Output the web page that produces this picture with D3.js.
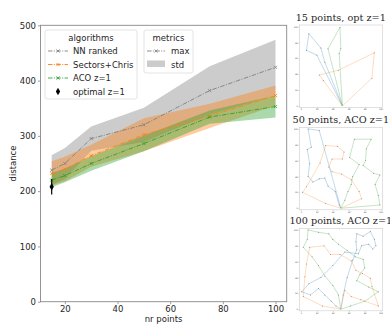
<!DOCTYPE html>
<html>
<head>
<meta charset="utf-8">
<script src="https://cdn.jsdelivr.net/npm/d3@7"></script>
<style>
  body { margin: 0; background: #fff; }
  svg { display: block; }
  text { font-family: "DejaVu Sans", sans-serif; fill: #262626; }
</style>
</head>
<body>
<div id="chart"></div>
<script>
// x values (nr points)
const nrPoints = [15, 20, 30, 50, 75, 100];

// mean and std per algorithm
const nnMean = [238, 250, 295, 320, 382, 424];
const nnStd = [27, 28, 22, 31, 44, 50];
const secMean = [232, 240, 264, 302, 336, 373];
const secStd = [22, 22, 20, 30, 22, 18];
const acoMean = [220, 228, 250, 286, 334, 353];
const acoStd = [13, 12, 13, 14, 12, 20];

// optimal solution, only for 15 points
const optX = [15];
const optMean = [208];
const optStd = [14];

const yTicks = [0, 100, 200, 300, 400, 500];
const xTicks = [20, 40, 60, 80, 100];

// example tours for the small panels, coordinates 0..100, depot at (50, 0)
const tours15 = [
  {color: '#1f77b4', pts: [[52,0],[30,55],[25,73],[10,91],[7,70],[20,64],[52,0]]},
  {color: '#2ca02c', pts: [[52,0],[34,72],[49,99],[50,72],[48,66],[52,0]]},
  {color: '#ff7f0e', pts: [[52,0],[28,32],[23,39],[47,45],[92,67],[89,35],[52,0]]}
];
const tours50 = [
  {color: '#1f77b4', pts: [[50,0],[48,4],[43,21],[34,28],[30,38],[23,37],[15,33],[9,40],[11,56],[8,74],[13,77],[9,100],[23,98],[50,0]]},
  {color: '#ff7f0e', pts: [[50,0],[31,6],[2,20],[7,27],[24,57],[31,79],[46,78],[54,71],[52,62],[39,62],[35,52],[39,46],[51,43],[63,36],[73,21],[76,12],[50,0]]},
  {color: '#2ca02c', pts: [[50,0],[55,10],[59,21],[63,30],[65,40],[73,55],[61,64],[67,87],[88,87],[82,75],[81,60],[78,54],[91,44],[99,42],[93,30],[97,16],[99,4],[50,0]]}
];
const tours100 = [
  {color: '#2ca02c', pts: [[50,0],[47,18],[40,30],[30,42],[22,55],[14,66],[3,78],[8,88],[9,100],[22,97],[35,95],[40,88],[47,82],[58,74],[68,66],[78,63],[80,52],[74,44],[70,36],[85,28],[97,22],[80,10],[62,4],[50,0]]},
  {color: '#1f77b4', pts: [[50,0],[53,18],[58,40],[65,62],[70,75],[69,85],[70,95],[78,92],[87,98],[92,88],[94,80],[90,76],[85,82],[76,80],[72,70],[55,72],[40,55],[25,40],[10,32],[1,22],[12,18],[22,26],[30,18],[38,10],[44,4],[50,0]]},
  {color: '#ff7f0e', pts: [[50,0],[27,4],[3,16],[5,41],[7,57],[11,78],[29,80],[37,69],[49,69],[63,61],[69,49],[77,45],[87,39],[89,29],[97,4],[75,12],[63,16],[55,24],[50,0]]}
];

const width = 390, height = 325;
const svg = d3.select('#chart').append('svg')
  .attr('width', width)
  .attr('height', height);

// main axes
const plot = {left: 40.5, right: 286.7, top: 25.3, bottom: 301.7};
const x = d3.scaleLinear().domain([10.75, 104.25]).range([plot.left, plot.right]);
const y = d3.scaleLinear().domain([0, 500]).range([plot.bottom, plot.top]);

const series = [
  {name: 'NN ranked', mean: nnMean, std: nnStd, color: '#7f7f7f'},
  {name: 'Sectors+Chris', mean: secMean, std: secStd, color: '#ff7f0e'},
  {name: 'ACO z=1', mean: acoMean, std: acoStd, color: '#2ca02c'}
];

const area = d3.area()
  .x(d => x(d.x))
  .y0(d => y(d.m - d.s))
  .y1(d => y(d.m + d.s));
const line = d3.line()
  .x(d => x(d.x))
  .y(d => y(d.m));

const dash = '4.5,1.4,1,1.4';

series.forEach(s => {
  const rows = nrPoints.map((v, i) => ({x: v, m: s.mean[i], s: s.std[i]}));
  svg.append('path')
    .attr('d', area(rows))
    .attr('fill', s.color)
    .attr('fill-opacity', 0.4);
});

function xMarker(g, cx, cy, color) {
  const r = 1.6;
  g.append('path')
    .attr('d', `M${cx - r},${cy - r}L${cx + r},${cy + r}M${cx - r},${cy + r}L${cx + r},${cy - r}`)
    .attr('stroke', color)
    .attr('stroke-width', 0.8);
}

series.forEach(s => {
  const rows = nrPoints.map((v, i) => ({x: v, m: s.mean[i], s: s.std[i]}));
  svg.append('path')
    .attr('d', line(rows))
    .attr('fill', 'none')
    .attr('stroke', s.color)
    .attr('stroke-width', 0.9)
    .attr('stroke-dasharray', dash);
  rows.forEach(r => xMarker(svg, x(r.x), y(r.m), s.color));
});

// optimal with error bar
optX.forEach((v, i) => {
  svg.append('line')
    .attr('x1', x(v)).attr('x2', x(v))
    .attr('y1', y(optMean[i] - optStd[i]))
    .attr('y2', y(optMean[i] + optStd[i]))
    .attr('stroke', '#000')
    .attr('stroke-width', 1.2);
  svg.append('path')
    .attr('d', d3.symbol(d3.symbolDiamond, 16)())
    .attr('transform', `translate(${x(v)},${y(optMean[i])})`)
    .attr('fill', '#000');
});

// axes
const yAxis = svg.append('g')
  .attr('transform', `translate(${plot.left},0)`)
  .call(d3.axisLeft(y).tickValues(yTicks).tickSize(2.5).tickPadding(2));
const xAxis = svg.append('g')
  .attr('transform', `translate(0,${plot.bottom})`)
  .call(d3.axisBottom(x).tickValues(xTicks).tickSize(2.5).tickPadding(2));
[xAxis, yAxis].forEach(a => {
  a.select('.domain').remove();
  a.selectAll('line').attr('stroke', '#888').attr('stroke-width', 0.8);
  a.selectAll('text').style('font-size', '8.5px').attr('fill', '#262626');
});

svg.append('rect')
  .attr('x', plot.left).attr('y', plot.top)
  .attr('width', plot.right - plot.left)
  .attr('height', plot.bottom - plot.top)
  .attr('fill', 'none')
  .attr('stroke', '#888')
  .attr('stroke-width', 0.9);

svg.append('text')
  .attr('x', (plot.left + plot.right) / 2)
  .attr('y', 322)
  .attr('text-anchor', 'middle')
  .style('font-size', '8.5px')
  .text('nr points');

svg.append('text')
  .attr('transform', `translate(15.5,${(plot.top + plot.bottom) / 2}) rotate(-90)`)
  .attr('text-anchor', 'middle')
  .style('font-size', '8.5px')
  .text('distance');

// legend: algorithms
const leg1 = svg.append('g');
leg1.append('rect')
  .attr('x', 45).attr('y', 30).attr('width', 92).attr('height', 69)
  .attr('rx', 2)
  .attr('fill', '#fff').attr('fill-opacity', 0.8)
  .attr('stroke', '#ddd').attr('stroke-width', 0.8);
leg1.append('text')
  .attr('x', 91).attr('y', 40.5)
  .attr('text-anchor', 'middle')
  .style('font-size', '8.5px')
  .text('algorithms');
series.forEach((s, i) => {
  const ly = 51 + i * 13.5;
  leg1.append('line')
    .attr('x1', 48).attr('x2', 68)
    .attr('y1', ly).attr('y2', ly)
    .attr('stroke', s.color)
    .attr('stroke-width', 0.9)
    .attr('stroke-dasharray', dash);
  xMarker(leg1, 58, ly, s.color);
  leg1.append('text')
    .attr('x', 73).attr('y', ly + 3)
    .style('font-size', '8.5px')
    .text(s.name);
});
leg1.append('path')
  .attr('d', d3.symbol(d3.symbolDiamond, 16)())
  .attr('transform', 'translate(58,91.5)')
  .attr('fill', '#000');
leg1.append('text')
  .attr('x', 73).attr('y', 94.5)
  .style('font-size', '8.5px')
  .text('optimal z=1');

// legend: metrics
const leg2 = svg.append('g');
leg2.append('rect')
  .attr('x', 144).attr('y', 30).attr('width', 49).attr('height', 43)
  .attr('rx', 2)
  .attr('fill', '#fff').attr('fill-opacity', 0.8)
  .attr('stroke', '#ddd').attr('stroke-width', 0.8);
leg2.append('text')
  .attr('x', 168.5).attr('y', 40.5)
  .attr('text-anchor', 'middle')
  .style('font-size', '8.5px')
  .text('metrics');
leg2.append('line')
  .attr('x1', 147).attr('x2', 165)
  .attr('y1', 51).attr('y2', 51)
  .attr('stroke', '#7f7f7f')
  .attr('stroke-width', 0.9)
  .attr('stroke-dasharray', dash);
xMarker(leg2, 156, 51, '#7f7f7f');
leg2.append('text')
  .attr('x', 171).attr('y', 54)
  .style('font-size', '8.5px')
  .text('max');
leg2.append('rect')
  .attr('x', 147).attr('y', 60.5).attr('width', 18).attr('height', 6.5)
  .attr('fill', '#7f7f7f').attr('fill-opacity', 0.4);
leg2.append('text')
  .attr('x', 171).attr('y', 67.5)
  .style('font-size', '8.5px')
  .text('std');

// small tour panels
const panels = [
  {title: '15 points, opt z=1', tours: tours15, top: 25, titleY: 20.5},
  {title: '50 points, ACO z=1', tours: tours50, top: 127.3, titleY: 123},
  {title: '100 points, ACO z=1', tours: tours100, top: 228.3, titleY: 224}
];
const pLeft = 299.3, pRight = 382.3, pSize = 82.5;
const tickVals = [0, 20, 40, 60, 80, 100];

panels.forEach(p => {
  const px = d3.scaleLinear().domain([-2, 102]).range([pLeft, pRight]);
  const py = d3.scaleLinear().domain([-2, 102]).range([p.top + pSize, p.top]);
  const g = svg.append('g');

  g.append('rect')
    .attr('x', pLeft).attr('y', p.top)
    .attr('width', pRight - pLeft).attr('height', pSize)
    .attr('fill', '#fff')
    .attr('stroke', '#ccc').attr('stroke-width', 0.6);

  const ax = g.append('g')
    .attr('transform', `translate(0,${p.top + pSize})`)
    .call(d3.axisBottom(px).tickValues(tickVals).tickSize(1).tickPadding(0.5));
  const ay = g.append('g')
    .attr('transform', `translate(${pLeft},0)`)
    .call(d3.axisLeft(py).tickValues(tickVals).tickSize(1).tickPadding(0.5));
  [ax, ay].forEach(a => {
    a.select('.domain').remove();
    a.selectAll('line').attr('stroke', '#aaa').attr('stroke-width', 0.5);
    a.selectAll('text').style('font-size', '2px').attr('fill', '#999');
  });

  const tl = d3.line().x(d => px(d[0])).y(d => py(d[1]));
  p.tours.forEach(t => {
    g.append('path')
      .attr('d', tl(t.pts))
      .attr('fill', 'none')
      .attr('stroke', t.color)
      .attr('stroke-opacity', 0.35)
      .attr('stroke-width', 0.8);
    g.selectAll(null)
      .data(t.pts.slice(1, -1))
      .join('circle')
      .attr('cx', d => px(d[0]))
      .attr('cy', d => py(d[1]))
      .attr('r', 0.5)
      .attr('fill', '#888');
  });

  svg.append('text')
    .attr('x', (pLeft + pRight) / 2)
    .attr('y', p.titleY)
    .attr('text-anchor', 'middle')
    .style('font-family', '"DejaVu Serif", serif')
    .style('font-size', '9.7px')
    .attr('fill', '#000')
    .text(p.title);
});
</script>
</body>
</html>
